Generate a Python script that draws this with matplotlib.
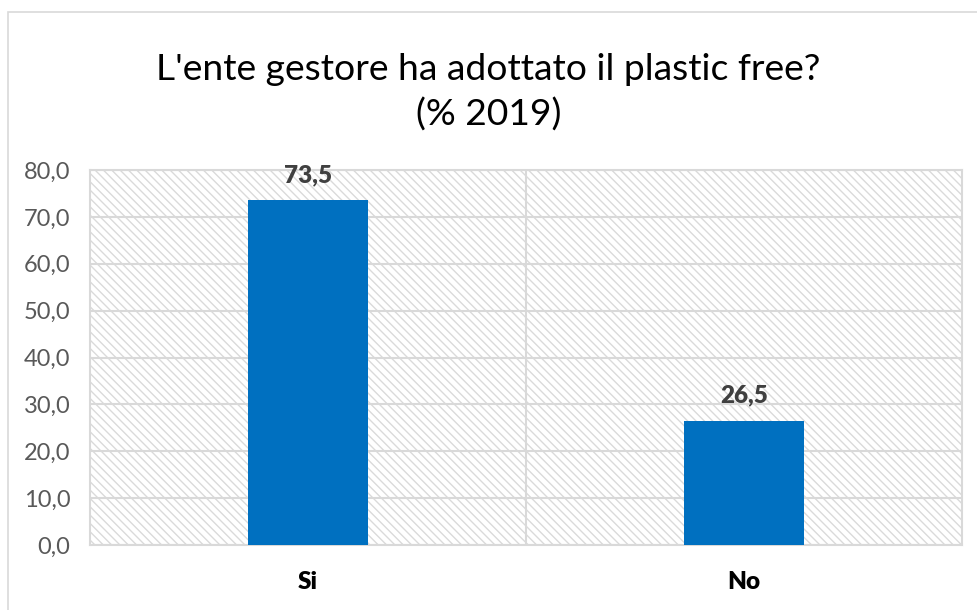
import matplotlib.pyplot as plt
import matplotlib.patches as mpatches
import numpy as np

plt.rcParams['font.family'] = ['Lato', 'DejaVu Sans']
plt.rcParams['hatch.color'] = '#dadada'
plt.rcParams['hatch.linewidth'] = 1.0

# dati
categorie = ['Si', 'No']
valori = [73.5, 26.5]
tick_y = [0, 10, 20, 30, 40, 50, 60, 70, 80]
titolo = "L'ente gestore ha adottato il plastic free?\n(% 2019)"

fig = plt.figure(figsize=(9.77, 6.1), dpi=100)
# cornice del grafico
fig.patches.append(mpatches.Rectangle((8/977, -0.1), 1.2, 1 - 12/610 + 0.1,
                                      transform=fig.transFigure, fill=False,
                                      edgecolor='#d9d9d9', linewidth=1.2))

ax = fig.add_axes([90/977, 1 - 545/610, 872/977, 375/610])
x = np.arange(len(categorie))
ax.set_xlim(-0.5, len(categorie) - 0.5)
ax.set_ylim(0, 80)

# sfondo tratteggiato
ax.add_patch(mpatches.Rectangle((0, 0), 1, 1, transform=ax.transAxes,
                                facecolor='white', edgecolor='#dadada',
                                linewidth=0, hatch='\\\\\\\\', zorder=0))
for t in tick_y:
    ax.axhline(t, color='#d9d9d9', linewidth=1.5, zorder=1)
ax.axvline(0.5, color='#d9d9d9', linewidth=1.5, zorder=1)

ax.bar(x, valori, width=0.275, color='#0070C0', zorder=3)
for xi, v in zip(x, valori):
    ax.text(xi, v + 3.0, f'{v:.1f}'.replace('.', ','), ha='center', va='bottom',
            fontsize=17.5, fontweight='heavy', color='#404040')

ax.set_xticks(x)
ax.set_xticklabels(categorie, fontsize=17.5, fontweight='heavy', color='black')
ax.set_yticks(tick_y)
ax.set_yticklabels([f'{t:.1f}'.replace('.', ',') for t in tick_y],
                   fontsize=17, color='#595959')
ax.tick_params(length=0)
ax.tick_params(axis='x', pad=19)
ax.tick_params(axis='y', pad=14)
for s in ax.spines.values():
    s.set_color('#d9d9d9')
    s.set_linewidth(1.5)

fig.text(0.5, 1 - 92/610, titolo, ha='center', va='center', fontsize=26.8,
         color='black', linespacing=1.4)

fig.savefig('out.png', dpi=100)
